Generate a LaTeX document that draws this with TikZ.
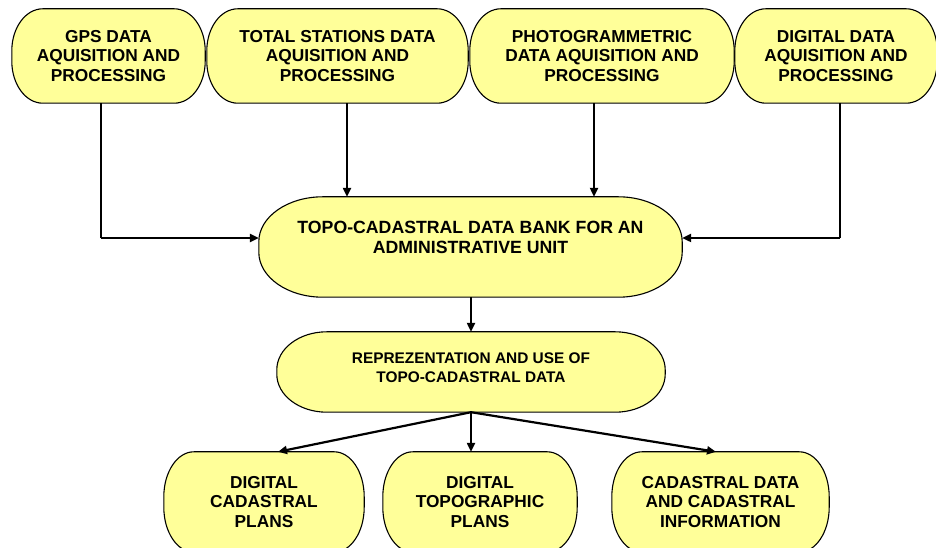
\documentclass[tikz,border=0pt]{standalone}
\usepackage{fontspec}
\setmainfont{Liberation Sans}
\usetikzlibrary{arrows.meta,backgrounds,calc}
\definecolor{boxyellow}{RGB}{255,255,153}
\newcommand\ebox[3]{\path[boxshape]
  ([xshift=#2]#1.north west) -- ([xshift=-#2]#1.north east)
  arc[start angle=90,end angle=0,x radius=#2,y radius=#3]
  -- ([yshift=#3]#1.south east)
  arc[start angle=0,end angle=-90,x radius=#2,y radius=#3]
  -- ([xshift=#2]#1.south west)
  arc[start angle=270,end angle=180,x radius=#2,y radius=#3]
  -- ([yshift=-#3]#1.north west)
  arc[start angle=180,end angle=90,x radius=#2,y radius=#3] -- cycle;}
\tikzset{
  boxshape/.style={draw=black,line width=1.1pt,fill=boxyellow},
  boxnode/.style={inner sep=0pt,align=center,font=\bfseries\fontsize{17.3}{19.5}\selectfont},
  txt/.style={inner sep=0pt,align=center},
  conn/.style={line width=2.2pt,-{Triangle[length=9pt,width=8pt]}},
  plain/.style={line width=2.2pt}
}
\begin{document}
\begin{tikzpicture}[x=1pt,y=1pt]
\useasboundingbox (0,0) rectangle (936,548);
% top row
\node[boxnode,minimum width=193pt,minimum height=94pt] (b1) at (108.5,492) {GPS DATA\\AQUISITION AND\\PROCESSING};
\node[boxnode,minimum width=261pt,minimum height=94pt] (b2) at (337.5,492) {TOTAL STATIONS DATA\\AQUISITION AND\\PROCESSING};
\node[boxnode,minimum width=264pt,minimum height=94pt] (b3) at (602,492) {PHOTOGRAMMETRIC\\DATA AQUISITION AND\\PROCESSING};
\node[boxnode,minimum width=202pt,minimum height=94pt] (b4) at (836,492) {DIGITAL DATA\\AQUISITION AND\\PROCESSING};
% data bank
\node[boxnode,minimum width=423pt,minimum height=100pt,
  label={[name=bankt,txt,font=\bfseries\fontsize{17.7}{20}\selectfont,yshift=10pt]center:{TOPO-CADASTRAL DATA BANK FOR AN\\ADMINISTRATIVE UNIT}}] (bank) at (470.5,301) {};
% representation
\node[boxnode,minimum width=388pt,minimum height=80pt,
  label={[name=rept,txt,font=\bfseries\fontsize{15.4}{19.5}\selectfont,yshift=4.5pt]center:{REPREZENTATION AND USE OF\\TOPO-CADASTRAL DATA}}] (rep) at (471,176) {};
% bottom row
\node[boxnode,minimum width=200pt,minimum height=100pt] (d1) at (264,46) {DIGITAL\\CADASTRAL\\PLANS};
\node[boxnode,minimum width=194pt,minimum height=100pt] (d2) at (480,46) {DIGITAL\\TOPOGRAPHIC\\PLANS};
\node[boxnode,minimum width=217pt,minimum height=100pt] (d3) at (720.5,46) {CADASTRAL DATA\\AND CADASTRAL\\INFORMATION};
\begin{pgfonlayer}{background}
\ebox{b1}{31pt}{42pt}
\ebox{b2}{31pt}{42pt}
\ebox{b3}{31pt}{42pt}
\ebox{b4}{31pt}{42pt}
\ebox{bank}{64pt}{45pt}
\ebox{rep}{50pt}{38pt}
\ebox{d1}{30pt}{45pt}
\ebox{d2}{30pt}{45pt}
\ebox{d3}{30pt}{45pt}
\end{pgfonlayer}
% connectors
\coordinate (k1) at (101,310);
\coordinate (k4) at (840,310);
\draw[plain] (b1.south -| k1) -- (k1);
\draw[conn] (k1) -- (bank.west |- k1);
\draw[plain] (b4.south -| k4) -- (k4);
\draw[conn] (k4) -- (bank.east |- k4);
\coordinate (k2) at (347,400);
\coordinate (k3) at (594,400);
\draw[conn] (b2.south -| k2) -- (bank.north -| k2);
\draw[conn] (b3.south -| k3) -- (bank.north -| k3);
\draw[conn] (bank.south -| rep.north) -- (rep.north);
\draw[conn] (rep.south) -- ([xshift=14pt]d1.north);
\draw[conn] (rep.south) -- ([xshift=-9pt]d2.north);
\draw[conn] (rep.south) -- ([xshift=-4.5pt]d3.north);
\end{tikzpicture}
\end{document}
